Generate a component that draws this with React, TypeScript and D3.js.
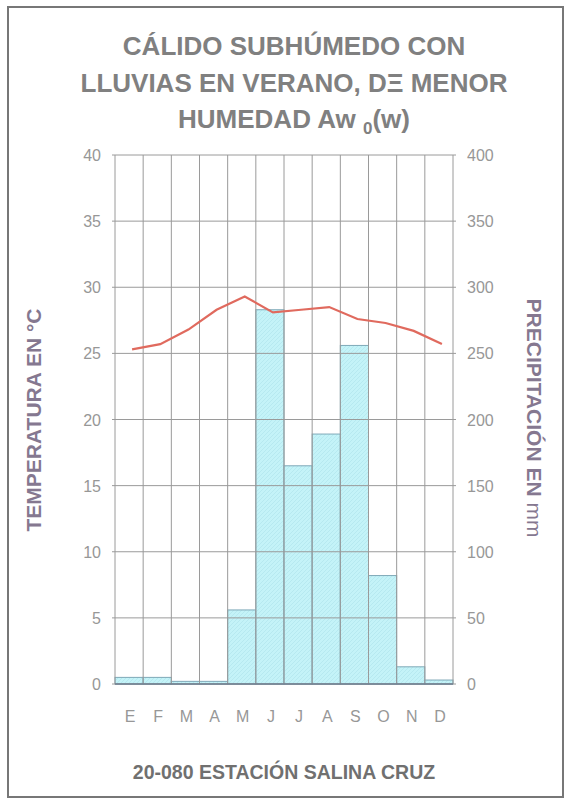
import React, { useEffect, useRef } from "react";
import * as d3 from "d3";

const months = ["E", "F", "M", "A", "M", "J", "J", "A", "S", "O", "N", "D"];
const precipitation = [5, 5, 2, 2, 56, 283, 165, 189, 256, 82, 13, 3];
const temperature = [25.3, 25.7, 26.8, 28.3, 29.3, 28.1, 28.3, 28.5, 27.6, 27.3, 26.7, 25.7];
const tempTicks = [0, 5, 10, 15, 20, 25, 30, 35, 40];
const precTicks = [0, 50, 100, 150, 200, 250, 300, 350, 400];

export default function App() {
  const svgRef = useRef<SVGSVGElement>(null);

  useEffect(() => {
    const svg = d3.select(svgRef.current);
    svg.selectAll("*").remove();

    const left = 115;
    const right = 453;
    const top = 155;
    const bottom = 684;
    const gray = "#9a9a9a";
    const textGray = "#808080";
    const labelColor = "#857890";

    // frame
    svg.append("rect")
      .attr("x", 8).attr("y", 7).attr("width", 555).attr("height", 790)
      .attr("fill", "white").attr("stroke", "#777").attr("stroke-width", 2);

    const x = d3.scaleBand<number>().domain(d3.range(months.length)).range([left, right]).padding(0);
    const yT = d3.scaleLinear().domain([0, 40]).range([bottom, top]);
    const yP = d3.scaleLinear().domain([0, 400]).range([bottom, top]);

    const defs = svg.append("defs");
    const pat = defs.append("pattern")
      .attr("id", "hatch").attr("patternUnits", "userSpaceOnUse")
      .attr("width", 4).attr("height", 4);
    pat.append("rect").attr("width", 4).attr("height", 4).attr("fill", "#c4f3f8");
    pat.append("path").attr("d", "M0,4 L4,0").attr("stroke", "#b2e6ee").attr("stroke-width", 0.8);

    // bars
    svg.append("g").selectAll("rect")
      .data(precipitation)
      .join("rect")
      .attr("x", (_, i) => x(i)!)
      .attr("width", x.bandwidth())
      .attr("y", (d) => yP(d))
      .attr("height", (d) => bottom - yP(d))
      .attr("fill", "url(#hatch)")
      .attr("stroke", "#7fa9b8")
      .attr("stroke-width", 1);

    // horizontal grid
    const grid = svg.append("g");
    grid.selectAll("line.h")
      .data(tempTicks)
      .join("line")
      .attr("class", "h")
      .attr("x1", left - 3).attr("x2", right + 3)
      .attr("y1", (d) => yT(d)).attr("y2", (d) => yT(d))
      .attr("stroke", gray).attr("stroke-width", 1);

    // vertical grid
    grid.selectAll("line.v")
      .data(d3.range(months.length + 1))
      .join("line")
      .attr("class", "v")
      .attr("x1", (i) => left + i * x.bandwidth()).attr("x2", (i) => left + i * x.bandwidth())
      .attr("y1", top).attr("y2", bottom)
      .attr("stroke", gray).attr("stroke-width", 1);

    svg.append("line")
      .attr("x1", left).attr("x2", right).attr("y1", bottom).attr("y2", bottom)
      .attr("stroke", "#6f7f90").attr("stroke-width", 1.5);

    // temperature line
    const line = d3.line<number>()
      .x((_, i) => x(i)! + x.bandwidth() / 2 + 3)
      .y((d) => yT(d));
    svg.append("path")
      .datum(temperature)
      .attr("fill", "none")
      .attr("stroke", "#e06a5e")
      .attr("stroke-width", 2.2)
      .attr("d", line);

    const font = "Liberation Sans, Arial, sans-serif";

    // tick labels
    svg.append("g").selectAll("text")
      .data(tempTicks)
      .join("text")
      .attr("x", 101).attr("y", (d) => yT(d) + 6)
      .attr("text-anchor", "end")
      .attr("font-family", font).attr("font-size", 16)
      .attr("fill", "#979797")
      .text((d) => d);

    svg.append("g").selectAll("text")
      .data(precTicks)
      .join("text")
      .attr("x", 467).attr("y", (d) => yP(d) + 6)
      .attr("text-anchor", "start")
      .attr("font-family", font).attr("font-size", 16)
      .attr("fill", "#979797")
      .text((d) => d);

    // month labels
    svg.append("g").selectAll("text")
      .data(months)
      .join("text")
      .attr("x", (_, i) => x(i)! + x.bandwidth() / 2 + 1)
      .attr("y", 722)
      .attr("text-anchor", "middle")
      .attr("font-family", font).attr("font-size", 16)
      .attr("fill", "#979797")
      .text((d) => d);

    // title
    const titleLines = ["CÁLIDO SUBHÚMEDO CON", "LLUVIAS EN VERANO, DΞ MENOR"];
    svg.append("g").selectAll("text")
      .data(titleLines)
      .join("text")
      .attr("x", 294).attr("y", (_, i) => 55 + i * 37)
      .attr("text-anchor", "middle")
      .attr("font-family", font).attr("font-size", 26).attr("font-weight", "bold")
      .attr("fill", textGray)
      .text((d) => d);
    const t3 = svg.append("text")
      .attr("x", 294).attr("y", 128)
      .attr("text-anchor", "middle")
      .attr("font-family", font).attr("font-size", 26).attr("font-weight", "bold")
      .attr("fill", textGray);
    t3.append("tspan").text("HUMEDAD Aw ");
    t3.append("tspan").attr("font-size", 17).attr("dy", 6).text("0");
    t3.append("tspan").attr("dy", -6).text("(w)");

    // axis titles
    svg.append("text")
      .attr("transform", "translate(41,420) rotate(-90)")
      .attr("text-anchor", "middle")
      .attr("font-family", font).attr("font-size", 21).attr("font-weight", "bold")
      .attr("fill", labelColor)
      .text("TEMPERATURA EN °C");

    const rt = svg.append("text")
      .attr("transform", "translate(527,418) rotate(90)")
      .attr("text-anchor", "middle")
      .attr("font-family", font).attr("font-size", 21)
      .attr("fill", labelColor);
    rt.append("tspan").attr("font-weight", "bold").text("PRECIPITACIÓN EN ");
    rt.append("tspan").text("mm");

    // footer
    svg.append("text")
      .attr("x", 284).attr("y", 779)
      .attr("text-anchor", "middle")
      .attr("font-family", font).attr("font-size", 19.5).attr("font-weight", "bold")
      .attr("fill", "#707070")
      .text("20-080 ESTACIÓN SALINA CRUZ");
  }, []);

  return (
    <svg
      ref={svgRef}
      width={571}
      height={804}
      style={{ position: "absolute", left: 0, top: 0 }}
    />
  );
}
